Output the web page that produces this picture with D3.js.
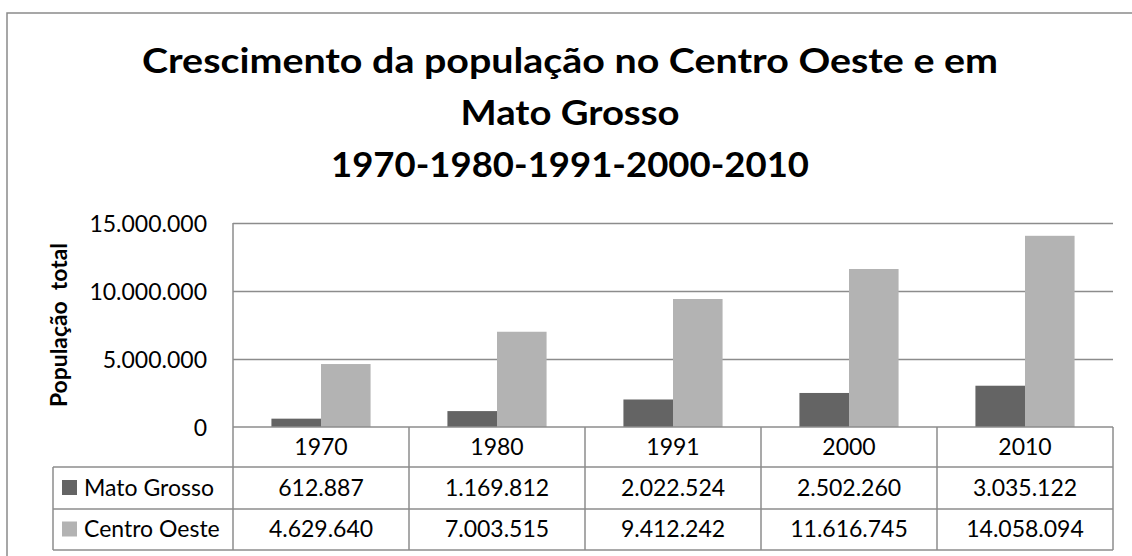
<!DOCTYPE html>
<html><head><meta charset="utf-8">
<script src="https://cdn.jsdelivr.net/npm/d3@7"></script>
<style>
html,body{margin:0;padding:0;background:#fff;}
svg{display:block;font-family:Lato, "Open Sans", sans-serif;}
</style></head>
<body>
<svg id="c" width="1132" height="556"></svg>
<script>
const titleLines = ["Crescimento da população no Centro Oeste e em", "Mato Grosso", "1970-1980-1991-2000-2010"];
const categories = ["1970", "1980", "1991", "2000", "2010"];
const seriesNames = ["Mato Grosso", "Centro Oeste"];
const matoGrosso = [612887, 1169812, 2022524, 2502260, 3035122];
const centroOeste = [4629640, 7003515, 9412242, 11616745, 14058094];
const yTicks = [0, 5000000, 10000000, 15000000];
const yAxisTitle = "População\u00a0\u00a0total";
const colors = ["#646464", "#b3b3b3"];

const series = [matoGrosso, centroOeste];
const fmt = v => d3.format(",")(v).replace(/,/g, ".");

const svg = d3.select("#c");
const L = 233, R = 1113, T = 223, B = 427;
const rowH = [427, 467, 509, 550];
const legendLeft = 53;
const lineCol = "#8c8c8c";

// chart border
svg.append("rect").attr("x", 7).attr("y", 13).attr("width", 1130).attr("height", 560)
  .attr("fill", "none").attr("stroke", "#8a8a8a").attr("stroke-width", 1.5);

// title
const titleWidths = [856, 219, 478];
const titleBase = [73, 125, 177];
titleLines.forEach((t, i) => {
  svg.append("text").attr("x", 570).attr("y", titleBase[i]).attr("text-anchor", "middle")
    .attr("font-weight", "bold").attr("font-size", 35).attr("fill", "#000")
    .attr("textLength", titleWidths[i]).attr("lengthAdjust", "spacingAndGlyphs")
    .text(t);
});

const x = d3.scaleBand().domain(categories).range([L, R]).paddingInner(0).paddingOuter(0);
const y = d3.scaleLinear().domain([0, 15000000]).range([B, T]);
const barW = x.bandwidth() / 3.55;
const xs = d3.scaleBand().domain(seriesNames).range([0, 2 * barW]);

// gridlines
svg.append("g").selectAll("line").data(yTicks.filter(d => d > 0)).join("line")
  .attr("x1", L).attr("x2", R).attr("y1", d => Math.round(y(d)) + 0.5).attr("y2", d => Math.round(y(d)) + 0.5)
  .attr("stroke", lineCol).attr("stroke-width", 1.5);

// y axis labels
const yAxis = d3.axisLeft(y).tickValues(yTicks).tickFormat(fmt).tickSize(0).tickPadding(0);
const ga = svg.append("g").attr("transform", `translate(${207},0)`).call(yAxis);
ga.select(".domain").remove();
ga.selectAll("text").attr("font-size", 23).attr("fill", "#000").attr("font-family", "Lato, sans-serif").attr("dy", "0.35em");

// y axis title
svg.append("text").attr("transform", "translate(67,325) rotate(-90)").attr("text-anchor", "middle")
  .attr("font-weight", "bold").attr("font-size", 22).attr("textLength", 164).attr("lengthAdjust", "spacingAndGlyphs")
  .text(yAxisTitle);

// bars
const groups = svg.append("g").selectAll("g").data(categories).join("g")
  .attr("transform", c => `translate(${x(c) + (x.bandwidth() - 2 * barW) / 2},0)`);
groups.selectAll("rect").data((c, i) => seriesNames.map((s, j) => ({s, v: series[j][i], j}))).join("rect")
  .attr("x", d => xs(d.s)).attr("width", xs.bandwidth())
  .attr("y", d => y(d.v)).attr("height", d => B - y(d.v))
  .attr("fill", d => colors[d.j]);

// table lines
const tl = svg.append("g").attr("stroke", lineCol).attr("stroke-width", 1.5).attr("fill", "none");
tl.append("line").attr("x1", L).attr("x2", R).attr("y1", B).attr("y2", B);
tl.append("line").attr("x1", L).attr("x2", L).attr("y1", T).attr("y2", rowH[3]);
[rowH[1], rowH[2], rowH[3]].forEach(yy => tl.append("line").attr("x1", legendLeft).attr("x2", R).attr("y1", yy).attr("y2", yy));
tl.append("line").attr("x1", legendLeft).attr("x2", legendLeft).attr("y1", rowH[1]).attr("y2", rowH[3]);
categories.forEach(c => tl.append("line").attr("x1", x(c) + x.bandwidth()).attr("x2", x(c) + x.bandwidth()).attr("y1", rowH[0]).attr("y2", rowH[3]));

// category labels
svg.append("g").selectAll("text").data(categories).join("text")
  .attr("x", c => x(c) + x.bandwidth() / 2).attr("y", 455).attr("text-anchor", "middle")
  .attr("font-size", 23).attr("fill", "#000").text(c => c);

// rows
const rowBase = [496, 537];
seriesNames.forEach((s, j) => {
  const cy = (rowH[j + 1] + rowH[j + 2]) / 2;
  svg.append("rect").attr("x", 62).attr("y", cy - 8).attr("width", 15).attr("height", 15).attr("fill", colors[j]);
  svg.append("text").attr("x", 84).attr("y", rowBase[j]).attr("font-size", 23).attr("fill", "#000").text(s);
  svg.append("g").selectAll("text").data(series[j]).join("text")
    .attr("x", (v, i) => x(categories[i]) + x.bandwidth() / 2).attr("y", rowBase[j])
    .attr("text-anchor", "middle").attr("font-size", 23).attr("fill", "#000").text(v => fmt(v));
});
</script>
</body></html>
